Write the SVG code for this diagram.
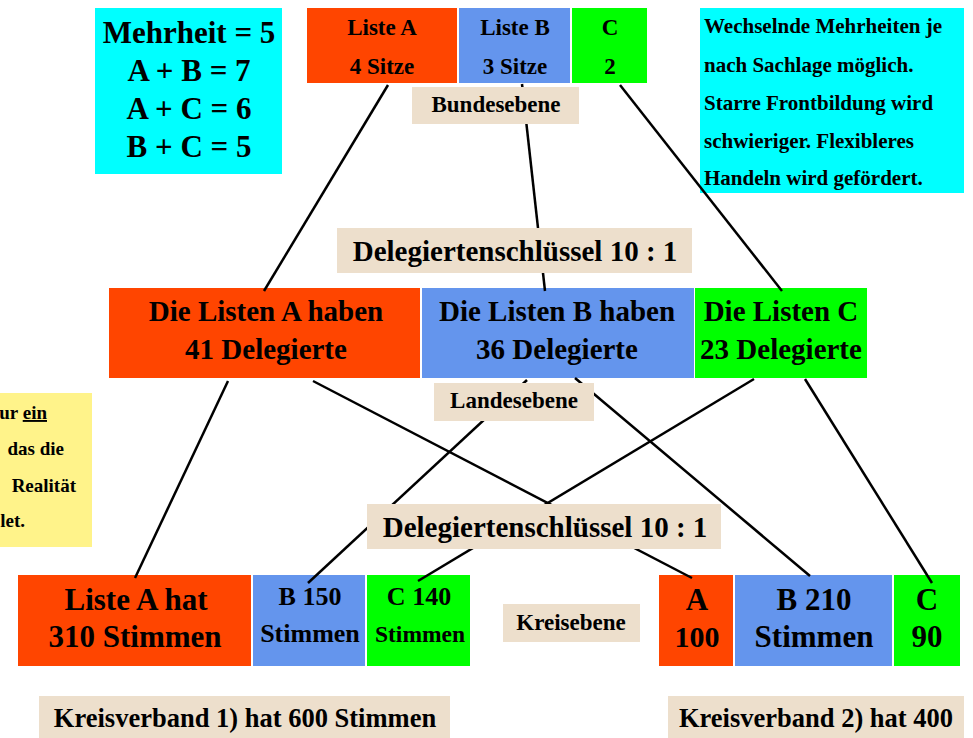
<svg xmlns="http://www.w3.org/2000/svg" width="973" height="738" viewBox="0 0 973 738">
<style>
text{font-family:"Liberation Serif","Times New Roman",serif;font-weight:bold;fill:#000}
.c{text-anchor:middle}
.e{text-anchor:end}
.red{fill:#FF4500}
.blue{fill:#6495ED}
.green{fill:#00FF00}
.cyan{fill:#00FFFF}
.beige{fill:#EDDFCC}
.yel{fill:#FFF38A}
.ln{stroke:#000;stroke-width:2.5;fill:none}
</style>
<rect width="973" height="738" fill="#fff"/>

<g id="mehrheit">
<rect class="cyan" x="95" y="8" width="187" height="166"/>
<text class="c" x="189" y="43" font-size="31">Mehrheit = 5</text>
<text class="c" x="189" y="81" font-size="31">A + B = 7</text>
<text class="c" x="189" y="119" font-size="31">A + C = 6</text>
<text class="c" x="189" y="157" font-size="31">B + C = 5</text>
</g>

<g id="hinweis">
<rect class="cyan" x="700" y="8" width="264" height="185"/>
<text x="704" y="33" font-size="21">Wechselnde Mehrheiten je</text>
<text x="704" y="72" font-size="21">nach Sachlage möglich.</text>
<text x="704" y="110" font-size="21">Starre Frontbildung wird</text>
<text x="704" y="148" font-size="21">schwieriger. Flexibleres</text>
<text x="704" y="185" font-size="21">Handeln wird gefördert.</text>
</g>

<g id="beispiel">
<rect class="yel" x="0" y="393" width="92" height="154"/>
<text class="e" x="47" y="419" font-size="19">ur <tspan text-decoration="underline">ein</tspan></text>
<text class="e" x="64" y="455" font-size="19">das die</text>
<text class="e" x="76" y="492" font-size="19">Realität</text>
<text class="e" x="25" y="527" font-size="19">let.</text>
</g>

<g id="bund-a"><rect class="red" x="307" y="8" width="150" height="75"/>
<text class="c" x="382" y="35" font-size="23">Liste A</text>
<text class="c" x="382" y="74" font-size="23">4 Sitze</text></g>
<g id="bund-b"><rect class="blue" x="459" y="8" width="111" height="75"/>
<text class="c" x="515" y="35" font-size="23">Liste B</text>
<text class="c" x="515" y="74" font-size="23">3 Sitze</text></g>
<g id="bund-c"><rect class="green" x="572" y="8" width="75" height="75"/>
<text class="c" x="610" y="35" font-size="23">C</text>
<text class="c" x="610" y="74" font-size="23">2</text></g>

<g id="land-a"><rect class="red" x="109" y="288" width="311" height="90"/>
<text class="c" x="266" y="321" font-size="29">Die Listen A haben</text>
<text class="c" x="266" y="359" font-size="29">41 Delegierte</text></g>
<g id="land-b"><rect class="blue" x="422" y="288" width="272" height="90"/>
<text class="c" x="557" y="321" font-size="29">Die Listen B haben</text>
<text class="c" x="557" y="359" font-size="29">36 Delegierte</text></g>
<g id="land-c"><rect class="green" x="695" y="288" width="172" height="90"/>
<text class="c" x="781" y="321" font-size="29">Die Listen C</text>
<text class="c" x="781" y="359" font-size="29">23 Delegierte</text></g>

<g id="k1-a"><rect class="red" x="18" y="575" width="233" height="91"/>
<text class="c" x="136" y="610" font-size="31">Liste A hat</text>
<text class="c" x="135" y="647" font-size="31">310 Stimmen</text></g>
<g id="k1-b"><rect class="blue" x="253" y="575" width="112" height="91"/>
<text class="c" x="310" y="605" font-size="26">B 150</text>
<text class="c" x="310" y="642" font-size="26">Stimmen</text></g>
<g id="k1-c"><rect class="green" x="367" y="575" width="103" height="91"/>
<text class="c" x="419" y="605" font-size="26">C 140</text>
<text class="c" x="420" y="642" font-size="23.5">Stimmen</text></g>

<g id="k2-a"><rect class="red" x="659" y="575" width="74" height="91"/>
<text class="c" x="697" y="610" font-size="31">A</text>
<text class="c" x="697" y="647" font-size="30">100</text></g>
<g id="k2-b"><rect class="blue" x="735" y="575" width="157" height="91"/>
<text class="c" x="814" y="610" font-size="31">B 210</text>
<text class="c" x="814" y="647" font-size="31">Stimmen</text></g>
<g id="k2-c"><rect class="green" x="894" y="575" width="66" height="91"/>
<text class="c" x="927" y="610" font-size="31">C</text>
<text class="c" x="927" y="647" font-size="31">90</text></g>

<g id="connectors">
<line class="ln" x1="388" y1="85" x2="264" y2="291"/>
<line class="ln" x1="522" y1="84" x2="545" y2="291"/>
<line class="ln" x1="620" y1="85" x2="782" y2="291"/>
<line class="ln" x1="228" y1="381" x2="135" y2="578"/>
<line class="ln" x1="313" y1="381" x2="692" y2="578"/>
<line class="ln" x1="527" y1="380" x2="308" y2="583"/>
<line class="ln" x1="575" y1="378" x2="810" y2="576"/>
<line class="ln" x1="754" y1="379" x2="418" y2="581"/>
<line class="ln" x1="805" y1="379" x2="932" y2="583"/>
</g>

<g id="bundesebene"><rect class="beige" x="412" y="87" width="167" height="37"/>
<text class="c" x="496" y="112" font-size="23">Bundesebene</text></g>
<g id="schluessel-1"><rect class="beige" x="337" y="228" width="355" height="45"/>
<text class="c" x="515" y="261" font-size="29">Delegiertenschlüssel 10 : 1</text></g>
<g id="landesebene"><rect class="beige" x="434" y="383" width="160" height="38"/>
<text class="c" x="514" y="408" font-size="23">Landesebene</text></g>
<g id="schluessel-2"><rect class="beige" x="367" y="504" width="354" height="45"/>
<text class="c" x="545" y="537" font-size="29">Delegiertenschlüssel 10 : 1</text></g>
<g id="kreisebene"><rect class="beige" x="503" y="604" width="137" height="38"/>
<text class="c" x="571" y="630" font-size="23">Kreisebene</text></g>
<g id="kreisverband-1"><rect class="beige" x="39" y="696" width="411" height="42"/>
<text class="c" x="245" y="727" font-size="26.5">Kreisverband 1) hat 600 Stimmen</text></g>
<g id="kreisverband-2"><rect class="beige" x="668" y="696" width="296" height="42"/>
<text class="c" x="816" y="727" font-size="26.5">Kreisverband 2) hat 400</text></g>
</svg>
